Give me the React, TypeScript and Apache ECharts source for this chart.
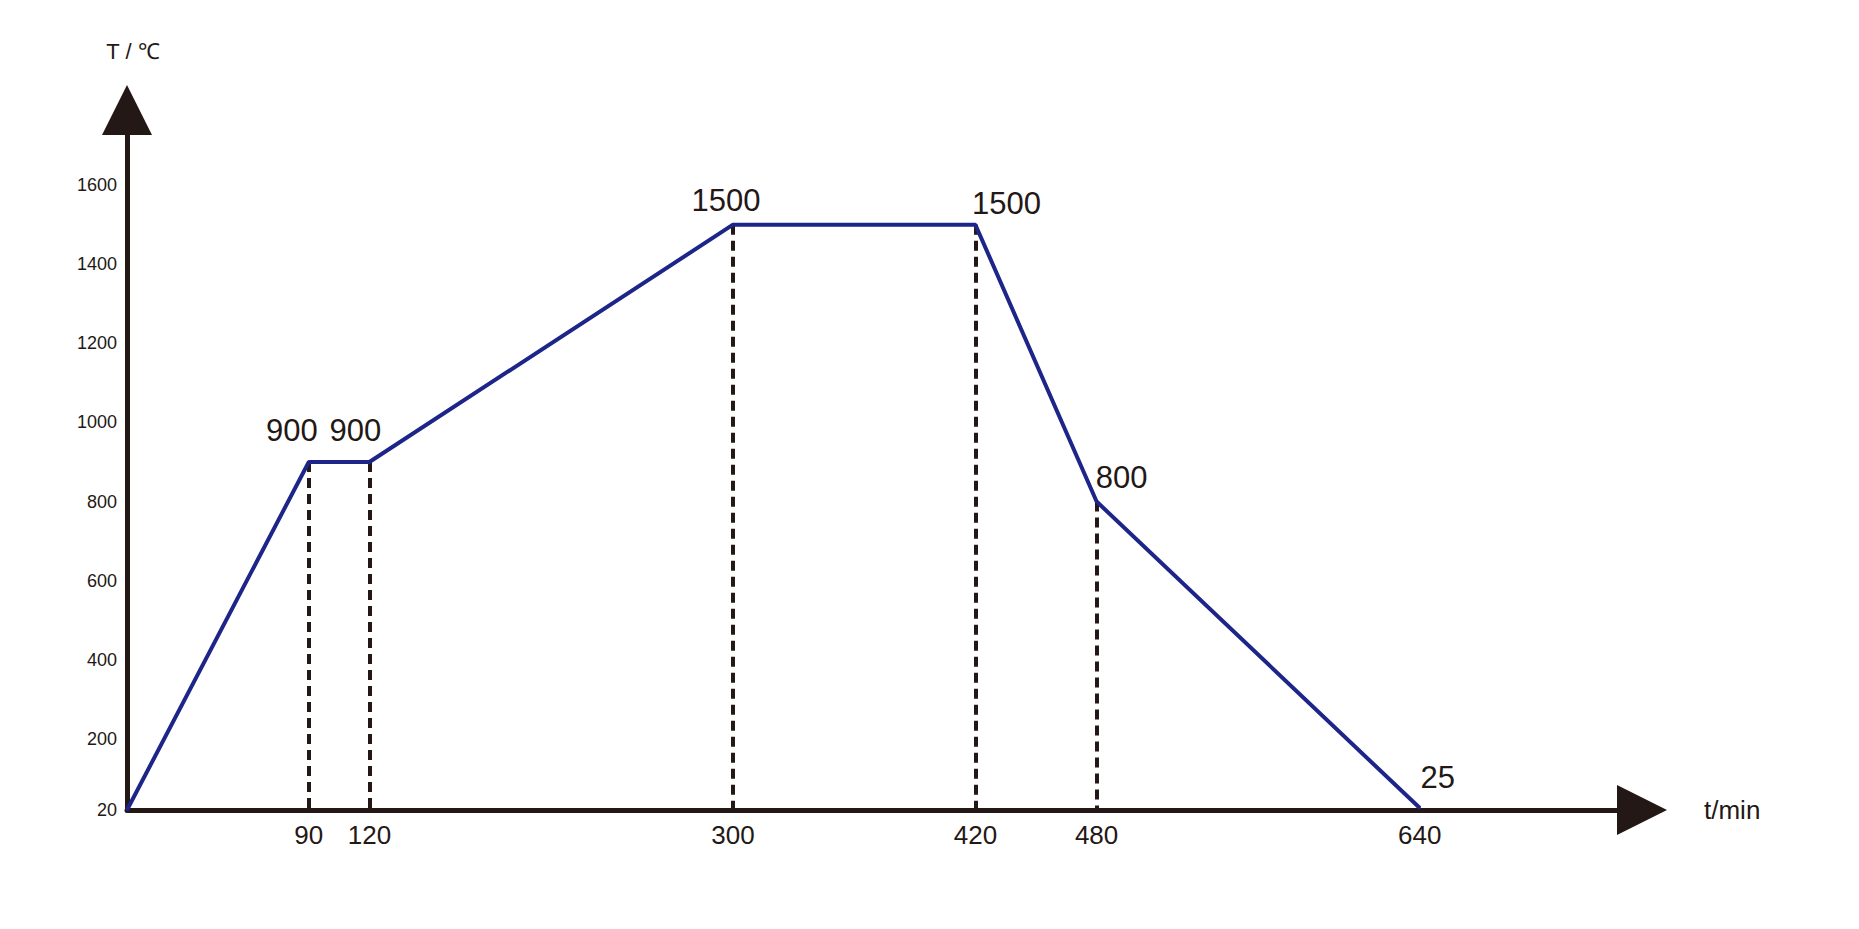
import React, { useEffect, useRef } from "react";
import * as echarts from "echarts";

// Heating schedule: time (min) vs temperature (°C)
const times = [0, 90, 120, 300, 420, 480, 640];
const temps = [20, 900, 900, 1500, 1500, 800, 25];
// which points carry a value label
const labelled = [false, true, true, true, true, true, true];
// which points get a dashed guide down to the time axis
const guides = [false, true, true, true, true, true, false];

const xTickValues = [90, 120, 300, 420, 480, 640];
const yTickValues = [20, 200, 400, 600, 800, 1000, 1200, 1400, 1600];

const xAxisName = "t/min";
const yAxisName = "T / ℃";

// label offsets (px) from each point, style only
const labelOffsets: number[][] = [
  [0, 0],
  [-17, -31],
  [-14, -31],
  [-7, -24],
  [31, -21],
  [25, -24],
  [18, -31],
];

const INK = "#231815";
const BLUE = "#1d2589";
const FONT = "'Liberation Sans', Arial, sans-serif";

export default function App() {
  const ref = useRef<HTMLDivElement>(null);

  useEffect(() => {
    if (!ref.current) return;
    const chart = echarts.init(ref.current, undefined, { renderer: "svg" });

    const seriesData = times.map((t, i) => ({
      value: [t, temps[i]],
      label: {
        show: labelled[i],
        position: "inside",
        offset: labelOffsets[i],
        formatter: String(temps[i]),
      },
    }));

    const guideLines = times
      .map((t, i) => ({ t, v: temps[i], g: guides[i] }))
      .filter((d) => d.g)
      .map((d) => [{ coord: [d.t, d.v] }, { coord: [d.t, yTickValues[0]] }]);

    chart.setOption({
      animation: false,
      backgroundColor: "#ffffff",
      textStyle: { fontFamily: FONT },
      grid: { left: 127, right: 217, top: 110, bottom: 119, containLabel: false },
      xAxis: {
        type: "value",
        min: 0,
        max: 750,
        name: xAxisName,
        nameLocation: "end",
        nameGap: 62,
        nameTextStyle: { color: INK, fontSize: 26, fontFamily: FONT },
        axisLine: {
          show: true,
          symbol: ["none", "triangle"],
          symbolSize: [50, 50],
          lineStyle: { color: INK, width: 5 },
        },
        axisTick: { show: false },
        splitLine: { show: false },
        axisLabel: {
          customValues: xTickValues,
          formatter: (v: number) => String(v),
          color: INK,
          fontSize: 26,
          fontFamily: FONT,
          margin: 12,
        },
      },
      yAxis: {
        type: "value",
        min: 20,
        max: 1790,
        name: yAxisName,
        nameLocation: "end",
        nameGap: 48,
        nameTextStyle: { color: INK, fontSize: 22, fontFamily: FONT, align: "center", padding: [0, 0, 0, 12] },
        axisLine: {
          show: true,
          symbol: ["none", "triangle"],
          symbolSize: [50, 50],
          lineStyle: { color: INK, width: 5 },
        },
        axisTick: { show: false },
        splitLine: { show: false },
        axisLabel: {
          customValues: yTickValues,
          formatter: (v: number) => String(v),
          color: INK,
          fontSize: 18,
          fontFamily: FONT,
          margin: 10,
        },
      },
      series: [
        {
          type: "line",
          data: seriesData,
          symbol: "circle",
          symbolSize: 2,
          showSymbol: true,
          itemStyle: { color: BLUE },
          lineStyle: { color: BLUE, width: 4 },
          label: {
            color: INK,
            fontSize: 31,
            fontFamily: FONT,
          },
          z: 3,
          markLine: {
            silent: true,
            symbol: ["none", "none"],
            label: { show: false },
            lineStyle: { color: INK, width: 4, type: [10, 6] },
            z: 1,
            data: guideLines,
          },
        },
      ],
    });

    return () => chart.dispose();
  }, []);

  return (
    <div
      ref={ref}
      style={{ position: "absolute", left: 0, top: 0, width: 1859, height: 929 }}
    />
  );
}
